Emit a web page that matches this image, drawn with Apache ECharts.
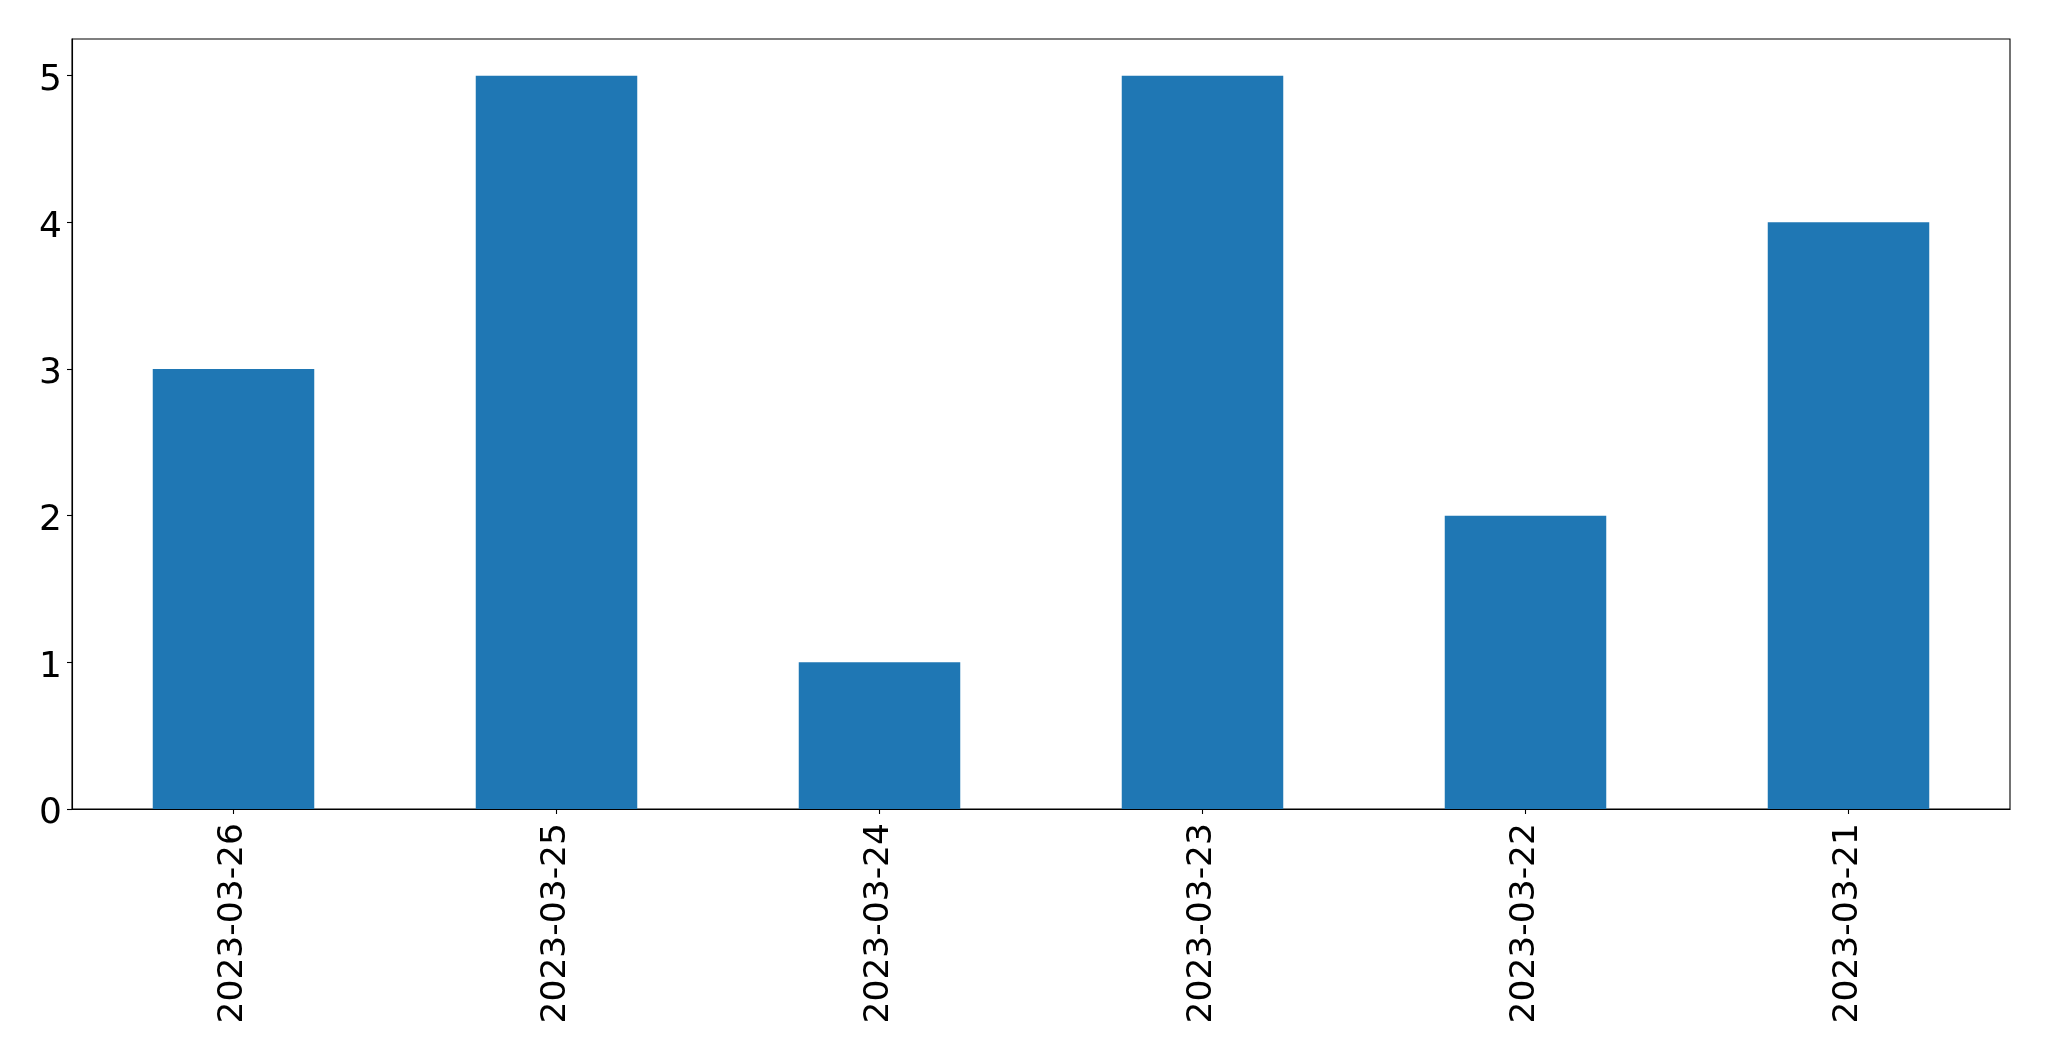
<!DOCTYPE html>
<html><head><meta charset="utf-8">
<script src="https://cdn.jsdelivr.net/npm/echarts@6/dist/echarts.min.js"></script>
<style>html,body{margin:0;padding:0;background:#fff}#c{width:2049px;height:1061px}</style>
</head><body><div id="c"></div>
<script>
const categories = ["2023-03-26","2023-03-25","2023-03-24","2023-03-23","2023-03-22","2023-03-21"];
const values = [3, 5, 1, 5, 2, 4];
const yTicks = [0, 1, 2, 3, 4, 5];

const chart = echarts.init(document.getElementById('c'), null, {renderer: 'canvas'});
const font = {fontFamily: 'DejaVu Sans', color: '#000'};
chart.setOption({
  animation: false,
  backgroundColor: '#fff',
  grid: {left: 72, top: 39, right: 39, bottom: 252, show: true, borderColor: '#000', borderWidth: 1.1, containLabel: false},
  xAxis: {
    type: 'category', data: categories, boundaryGap: true,
    axisLine: {show: true, lineStyle: {color: '#000', width: 1.1}},
    axisTick: {show: true, alignWithLabel: true, length: 5, lineStyle: {color: '#000', width: 1.1}},
    axisLabel: Object.assign({rotate: 90, margin: 14, interval: 0, fontSize: 34.5}, font),
    splitLine: {show: false}
  },
  yAxis: {
    type: 'value', min: 0, max: 5.25,
    axisLine: {show: true, lineStyle: {color: '#000', width: 1.1}},
    axisTick: {show: true, length: 5, customValues: yTicks, lineStyle: {color: '#000', width: 1.1}},
    axisLabel: Object.assign({
      margin: 10, customValues: yTicks, fontSize: 36,
      formatter: function (v) { return '{a|' + v + '}'; },
      rich: {a: {fontFamily: 'DejaVu Sans', fontSize: 36, color: '#000', padding: [10, 0, 0, 0]}}
    }, font),
    splitLine: {show: false}
  },
  series: [{type: 'bar', data: values, barWidth: '50%', itemStyle: {color: '#1f77b4'}}]
});
</script></body></html>
